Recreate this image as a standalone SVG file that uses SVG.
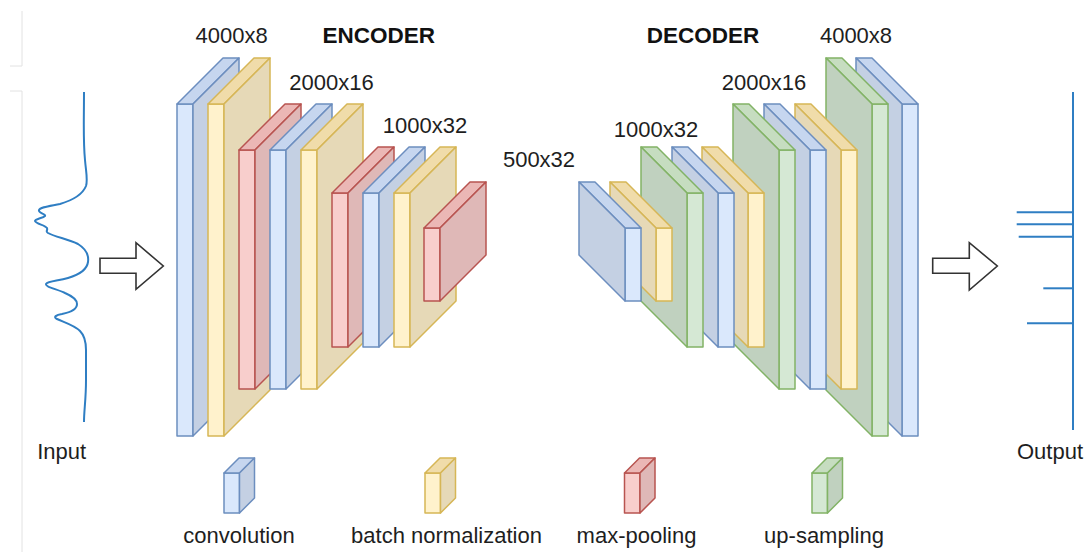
<svg xmlns="http://www.w3.org/2000/svg" width="1086" height="552" viewBox="0 0 1086 552">
<style>
text{font-family:"Liberation Sans",Arial,sans-serif;fill:#1e1e1e;font-size:22px;text-anchor:middle}
.hd{font-weight:bold;font-size:22.5px;fill:#111}
polygon,rect{stroke-width:1.5;stroke-linejoin:round}
.b{stroke:#6c8ebf}.b.f{fill:#dae8fc}.b.s{fill:#c4d0e3}.b.t{fill:#c6d6ef}
.y{stroke:#d6b656}.y.f{fill:#fff2cc}.y.s{fill:#e6d9b7}.y.t{fill:#f0dcaa}
.r{stroke:#b85450}.r.f{fill:#f8cecc}.r.s{fill:#dfb8b7}.r.t{fill:#ebb7b5}
.g{stroke:#82b366}.g.f{fill:#d5e8d4}.g.s{fill:#c0d1bf}.g.t{fill:#c6ddc0}
.arr{fill:#fff;stroke:#333;stroke-width:1.6;stroke-linejoin:miter}
.sig{fill:none;stroke:#2f7ec3;stroke-width:2}
.frame{fill:none;stroke:#e2e2e2;stroke-width:1}
</style>

<g id="frame">
<polyline class="frame" points="22,11 22,66 10,66"/>
<polyline class="frame" points="10,91 22,91 22,552"/>
</g>

<g id="input">
<path class="sig" d="M84,92 C84,120 83,140 85,160 C86,172 88,180 86,186 C82,196 70,201 60,204 C50,206 40,207 39,210 C38,213 46,214 45,216 C43,218 35,219 35,221 C36,224 45,225 47,228 C48,231 45,231 48,233 C55,237 68,239 78,244 C86,249 89,255 88,262 C87,270 78,275 68,278 C58,281 48,281 46,284 C45,287 57,289 65,293 C72,296 77,300 77,304 C77,309 72,312 62,314 C56,315 53,317 57,319 C63,322 74,325 80,331 C85,336 86,342 86,350 L86,380 C86,400 84,410 84,422"/>
<text x="61.7" y="459">Input</text>
</g>

<g id="output">
<line class="sig" x1="1073" y1="92" x2="1073" y2="430"/>
<line class="sig" x1="1016.7" y1="212.3" x2="1073" y2="212.3"/>
<line class="sig" x1="1016.7" y1="224.3" x2="1073" y2="224.3"/>
<line class="sig" x1="1018.7" y1="236.7" x2="1073" y2="236.7"/>
<line class="sig" x1="1043.3" y1="288.3" x2="1073" y2="288.3"/>
<line class="sig" x1="1027" y1="323.3" x2="1073" y2="323.3"/>
<text x="1050" y="459">Output</text>
</g>

<g id="connectors">
<polygon class="arr" points="100,258.3 136,258.3 136,242.7 163.3,266 136,289.3 136,273.3 100,273.3"/>
<polygon class="arr" points="932.7,258.3 969.3,258.3 969.3,242.7 997.3,266 969.3,290 969.3,273.3 932.7,273.3"/>
</g>

<g id="encoder">
<text class="hd" x="378.8" y="43.3">ENCODER</text>
<text x="231.7" y="43.3">4000x8</text>
<text x="331.5" y="90">2000x16</text>
<text x="425" y="133.3">1000x32</text>
<g id="enc-conv1"><rect class="b f" x="177" y="104" width="16" height="332"/><polygon class="b t" points="177,104 193,104 239,58 223,58"/><polygon class="b s" points="193,104 239,58 239,390 193,436"/></g>
<g id="enc-bn1"><rect class="y f" x="208" y="104" width="16" height="332"/><polygon class="y t" points="208,104 224,104 270,58 254,58"/><polygon class="y s" points="224,104 270,58 270,390 224,436"/></g>
<g id="enc-pool1"><rect class="r f" x="239" y="150" width="16" height="239"/><polygon class="r t" points="239,150 255,150 301,104 285,104"/><polygon class="r s" points="255,150 301,104 301,343 255,389"/></g>
<g id="enc-conv2"><rect class="b f" x="270" y="150" width="16" height="239"/><polygon class="b t" points="270,150 286,150 332,104 316,104"/><polygon class="b s" points="286,150 332,104 332,343 286,389"/></g>
<g id="enc-bn2"><rect class="y f" x="301" y="150" width="16" height="239"/><polygon class="y t" points="301,150 317,150 363,104 347,104"/><polygon class="y s" points="317,150 363,104 363,343 317,389"/></g>
<g id="enc-pool2"><rect class="r f" x="332" y="193" width="16" height="154"/><polygon class="r t" points="332,193 348,193 394,147 378,147"/><polygon class="r s" points="348,193 394,147 394,301 348,347"/></g>
<g id="enc-conv3"><rect class="b f" x="363" y="193" width="16" height="154"/><polygon class="b t" points="363,193 379,193 425,147 409,147"/><polygon class="b s" points="379,193 425,147 425,301 379,347"/></g>
<g id="enc-bn3"><rect class="y f" x="394" y="193" width="16" height="154"/><polygon class="y t" points="394,193 410,193 456,147 440,147"/><polygon class="y s" points="410,193 456,147 456,301 410,347"/></g>
<g id="enc-pool3"><rect class="r f" x="424" y="228" width="16" height="73"/><polygon class="r t" points="424,228 440,228 486,182 470,182"/><polygon class="r s" points="440,228 486,182 486,255 440,301"/></g>
</g>

<text x="539" y="167">500x32</text>

<g id="decoder">
<text class="hd" x="703" y="43.3">DECODER</text>
<text x="856" y="43.3">4000x8</text>
<text x="764" y="90">2000x16</text>
<text x="656" y="136.5">1000x32</text>
<g id="dec-conv4"><rect class="b f" x="902" y="104" width="16" height="332"/><polygon class="b t" points="902,104 918,104 872,58 856,58"/><polygon class="b s" points="902,104 856,58 856,390 902,436"/></g>
<g id="dec-up3"><rect class="g f" x="872" y="104" width="16" height="332"/><polygon class="g t" points="872,104 888,104 842,58 826,58"/><polygon class="g s" points="872,104 826,58 826,390 872,436"/></g>
<g id="dec-bn3"><rect class="y f" x="841" y="150" width="16" height="239"/><polygon class="y t" points="841,150 857,150 811,104 795,104"/><polygon class="y s" points="841,150 795,104 795,343 841,389"/></g>
<g id="dec-conv3"><rect class="b f" x="810" y="150" width="16" height="239"/><polygon class="b t" points="810,150 826,150 780,104 764,104"/><polygon class="b s" points="810,150 764,104 764,343 810,389"/></g>
<g id="dec-up2"><rect class="g f" x="779" y="150" width="16" height="239"/><polygon class="g t" points="779,150 795,150 749,104 733,104"/><polygon class="g s" points="779,150 733,104 733,343 779,389"/></g>
<g id="dec-bn2"><rect class="y f" x="748" y="193" width="16" height="154"/><polygon class="y t" points="748,193 764,193 718,147 702,147"/><polygon class="y s" points="748,193 702,147 702,301 748,347"/></g>
<g id="dec-conv2"><rect class="b f" x="718" y="193" width="16" height="154"/><polygon class="b t" points="718,193 734,193 688,147 672,147"/><polygon class="b s" points="718,193 672,147 672,301 718,347"/></g>
<g id="dec-up1"><rect class="g f" x="687" y="193" width="16" height="154"/><polygon class="g t" points="687,193 703,193 657,147 641,147"/><polygon class="g s" points="687,193 641,147 641,301 687,347"/></g>
<g id="dec-bn1"><rect class="y f" x="656" y="228" width="16" height="73"/><polygon class="y t" points="656,228 672,228 626,182 610,182"/><polygon class="y s" points="656,228 610,182 610,255 656,301"/></g>
<g id="dec-conv1"><rect class="b f" x="625" y="228" width="16" height="73"/><polygon class="b t" points="625,228 641,228 595,182 579,182"/><polygon class="b s" points="625,228 579,182 579,255 625,301"/></g>
</g>

<g id="legend">
<g id="leg-conv"><rect class="b f" x="224" y="473" width="15.5" height="40"/><polygon class="b t" points="224,473 239.5,473 254.5,458 239,458"/><polygon class="b s" points="239.5,473 254.5,458 254.5,498 239.5,513"/><text x="239" y="543">convolution</text></g>
<g id="leg-bn"><rect class="y f" x="425" y="473" width="15.5" height="40"/><polygon class="y t" points="425,473 440.5,473 455.5,458 440,458"/><polygon class="y s" points="440.5,473 455.5,458 455.5,498 440.5,513"/><text x="446.5" y="543">batch normalization</text></g>
<g id="leg-pool"><rect class="r f" x="624.5" y="473" width="15.5" height="40"/><polygon class="r t" points="624.5,473 640,473 655,458 639.5,458"/><polygon class="r s" points="640,473 655,458 655,498 640,513"/><text x="636.5" y="543">max-pooling</text></g>
<g id="leg-up"><rect class="g f" x="812" y="473" width="15.5" height="40"/><polygon class="g t" points="812,473 827.5,473 842.5,458 827,458"/><polygon class="g s" points="827.5,473 842.5,458 842.5,498 827.5,513"/><text x="824" y="543">up-sampling</text></g>
</g>
</svg>
